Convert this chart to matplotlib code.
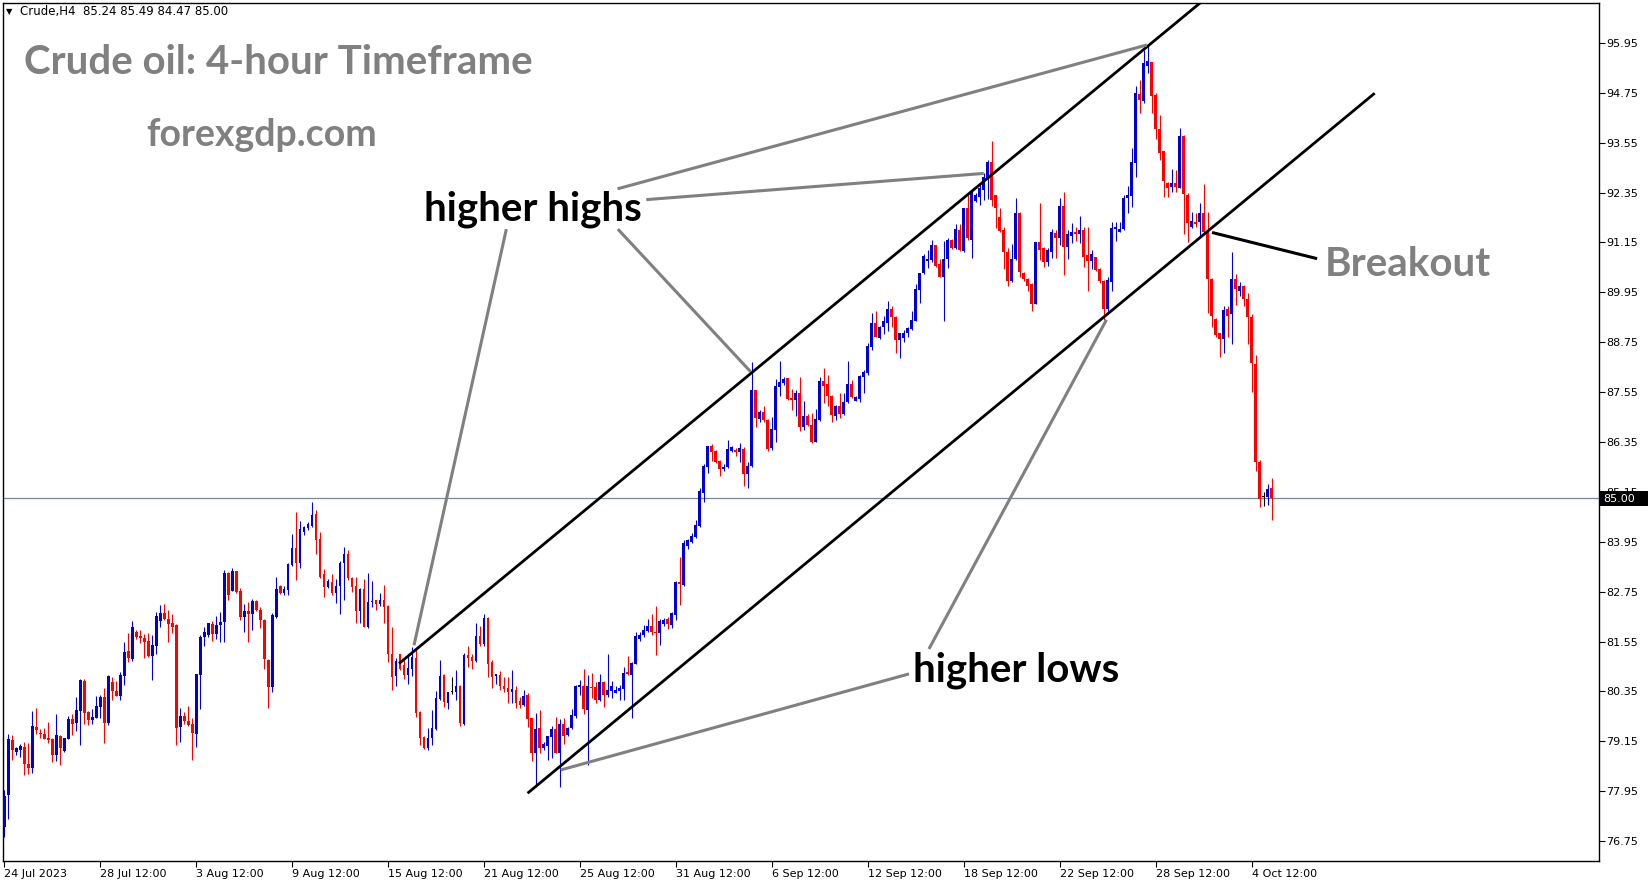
import numpy as np
import matplotlib
matplotlib.use('Agg')
import matplotlib.pyplot as plt
from matplotlib.patches import Rectangle

# H4 candles, Crude, 24 Jul 2023 .. 5 Oct 2023 (bar index 0..317)
opens = [
    77.09, 77.86, 79.18, 78.90, 78.95, 79.01, 78.60, 78.51, 79.49, 79.35,
    79.32, 79.23, 79.21, 78.82, 79.28, 78.92, 79.21, 79.69, 79.60, 79.88,
    80.60, 79.85, 79.66, 79.72, 79.98, 80.21, 79.58, 80.58, 80.37, 80.25,
    80.73, 81.32, 81.14, 81.78, 81.69, 81.63, 81.56, 81.21, 81.45, 82.05,
    82.23, 82.09, 81.99, 81.95, 79.50, 79.75, 79.63, 79.56, 79.33, 80.75,
    81.67, 81.71, 81.97, 81.74, 81.95, 82.03, 83.20, 82.77, 83.24, 82.76,
    82.15, 82.28, 82.20, 82.52, 82.32, 82.07, 81.10, 80.46, 82.15, 82.88,
    82.71, 82.79, 83.39, 83.80, 83.43, 84.18, 84.29, 84.33, 84.62, 84.01,
    83.17, 82.87, 82.98, 82.71, 82.88, 83.43, 83.65, 83.07, 82.88, 82.29,
    82.81, 81.91, 82.49, 82.55, 82.45, 82.55, 82.41, 81.26, 80.72, 81.25,
    80.98, 80.74, 80.89, 81.16, 79.85, 79.26, 79.00, 79.23, 79.44, 80.16,
    80.74, 80.08, 80.33, 80.33, 80.49, 79.56, 81.22, 81.18, 81.09, 81.68,
    81.49, 82.12, 81.06, 80.73, 80.74, 80.49, 80.42, 80.34, 80.38, 80.12,
    80.02, 80.26, 79.70, 78.87, 79.46, 79.00, 79.04, 79.26, 79.44, 78.87,
    79.56, 79.30, 79.46, 79.77, 80.46, 80.49, 79.90, 80.46, 80.45, 80.14,
    80.58, 80.26, 80.37, 80.32, 80.37, 80.40, 80.82, 80.74, 81.02, 81.60,
    81.71, 81.80, 81.92, 81.77, 81.75, 81.97, 82.10, 81.95, 82.19, 82.97,
    82.92, 83.85, 83.95, 84.07, 84.34, 85.13, 85.76, 86.25, 86.13, 85.89,
    85.70, 85.74, 86.13, 86.16, 86.10, 86.18, 85.58, 85.77, 87.59, 86.90,
    87.06, 86.89, 86.20, 86.64, 87.68, 87.78, 87.90, 87.41, 87.36, 87.54,
    86.70, 86.97, 86.76, 86.36, 86.88, 87.82, 87.74, 87.46, 86.98, 87.21,
    87.02, 87.30, 87.74, 87.34, 87.38, 87.92, 88.02, 88.64, 89.21, 88.86,
    89.12, 89.22, 89.54, 89.35, 88.80, 88.84, 88.96, 89.06, 89.26, 90.01,
    90.41, 90.71, 90.73, 91.09, 90.63, 90.31, 90.74, 91.21, 91.01, 91.45,
    90.95, 91.97, 91.21, 92.15, 92.25, 92.41, 92.68, 93.08, 92.29, 91.76,
    91.45, 90.91, 90.22, 90.75, 91.87, 90.41, 90.26, 90.15, 89.67, 91.15,
    91.01, 90.67, 90.93, 91.37, 91.25, 92.03, 91.03, 91.31, 91.41, 91.35,
    91.45, 90.85, 90.71, 90.79, 90.50, 90.23, 89.55, 90.21, 91.47, 91.39,
    91.47, 92.21, 92.27, 93.07, 94.72, 94.56, 95.40, 95.50, 94.70, 93.88,
    93.34, 92.57, 92.48, 92.57, 92.47, 93.71, 92.29, 91.51, 91.63, 91.63,
    91.87, 91.41, 90.27, 89.31, 88.96, 88.82, 89.54, 89.42, 90.27, 89.98,
    90.10, 89.79, 89.35, 88.23, 85.86, 85.03, 85.02, 85.24]
highs = [
    77.98, 79.32, 79.30, 79.02, 79.08, 79.13, 79.10, 79.89, 79.95, 79.45,
    79.48, 79.61, 79.24, 79.81, 79.30, 79.24, 79.76, 79.81, 80.22, 80.65,
    80.64, 79.88, 79.93, 80.24, 80.26, 80.42, 80.74, 80.69, 80.61, 80.81,
    81.54, 81.76, 82.04, 81.83, 81.82, 81.74, 81.75, 81.71, 82.27, 82.44,
    82.45, 82.31, 82.21, 81.97, 79.95, 79.85, 80.00, 79.71, 80.78, 81.71,
    81.89, 81.99, 82.05, 82.17, 82.27, 83.27, 83.22, 83.31, 83.25, 82.83,
    82.45, 82.49, 82.58, 82.54, 82.37, 82.08, 81.12, 82.23, 83.10, 82.90,
    82.88, 83.43, 84.13, 84.66, 84.46, 84.33, 84.42, 84.91, 84.71, 84.19,
    83.29, 83.05, 83.17, 83.06, 83.49, 83.83, 83.75, 83.11, 83.11, 82.83,
    83.05, 83.20, 83.00, 82.56, 82.72, 82.91, 82.42, 81.89, 81.16, 81.26,
    81.10, 81.22, 81.42, 81.37, 79.88, 79.27, 79.48, 79.90, 80.37, 81.10,
    80.77, 80.34, 80.70, 80.86, 80.50, 81.28, 81.44, 81.25, 82.00, 81.92,
    82.21, 82.13, 81.10, 80.78, 80.85, 80.70, 80.70, 80.86, 80.49, 80.22,
    80.38, 80.30, 79.72, 79.84, 79.90, 79.14, 79.28, 79.52, 79.74, 79.68,
    79.72, 79.50, 79.92, 80.50, 80.62, 80.89, 80.74, 80.80, 80.58, 80.77,
    80.59, 81.25, 80.61, 80.49, 80.50, 80.94, 81.20, 81.06, 81.77, 81.79,
    81.94, 82.08, 82.21, 82.40, 82.09, 82.11, 82.15, 82.27, 83.01, 83.59,
    83.99, 84.02, 84.15, 84.47, 85.25, 85.82, 86.25, 86.29, 86.16, 85.92,
    85.81, 86.40, 86.25, 86.21, 86.32, 86.22, 85.88, 88.28, 87.60, 87.12,
    87.22, 86.90, 86.96, 87.86, 88.30, 87.92, 87.90, 87.62, 87.61, 87.91,
    87.34, 87.02, 87.04, 87.14, 87.92, 88.14, 87.96, 87.48, 87.25, 87.52,
    87.52, 88.30, 87.83, 87.46, 87.96, 88.08, 88.72, 89.45, 89.50, 89.14,
    89.38, 89.74, 89.62, 89.37, 88.98, 89.04, 89.12, 89.50, 90.14, 90.42,
    90.86, 90.97, 91.21, 91.09, 90.74, 91.19, 91.25, 91.23, 91.59, 91.59,
    91.99, 92.29, 92.41, 92.33, 92.57, 92.81, 93.13, 93.60, 92.29, 91.97,
    91.51, 91.02, 91.11, 92.21, 91.89, 90.43, 90.29, 90.17, 91.17, 92.11,
    91.05, 91.01, 91.47, 91.45, 92.21, 92.37, 91.45, 91.61, 91.53, 91.79,
    91.53, 91.53, 90.97, 90.81, 90.53, 90.25, 90.33, 91.65, 91.65, 91.65,
    92.29, 92.51, 93.41, 94.92, 95.06, 95.78, 95.90, 95.50, 94.74, 94.22,
    93.34, 92.61, 92.91, 92.89, 93.90, 93.74, 92.33, 91.89, 91.87, 92.09,
    92.55, 91.89, 90.29, 89.33, 88.96, 89.63, 89.63, 90.93, 90.39, 90.21,
    90.13, 89.93, 89.43, 88.44, 85.92, 85.14, 85.35, 85.49]
lows = [
    76.85, 77.29, 78.71, 78.82, 78.78, 78.33, 78.36, 78.38, 79.32, 79.24,
    79.20, 79.10, 78.65, 78.68, 78.59, 78.90, 79.20, 79.30, 79.40, 79.06,
    79.56, 79.54, 79.56, 79.71, 79.72, 79.12, 79.54, 80.14, 80.23, 80.14,
    80.50, 81.06, 81.09, 81.60, 81.51, 81.16, 81.18, 80.62, 81.25, 81.91,
    82.06, 81.54, 81.75, 79.06, 79.14, 79.56, 79.52, 78.70, 79.02, 79.93,
    81.45, 81.67, 81.57, 81.60, 81.54, 81.54, 82.55, 82.76, 82.72, 82.07,
    81.78, 81.54, 81.83, 82.29, 81.87, 80.90, 79.94, 80.34, 82.12, 82.69,
    82.68, 82.67, 83.37, 83.03, 83.31, 84.11, 84.23, 84.31, 83.65, 83.07,
    82.63, 82.84, 82.68, 82.47, 82.21, 82.55, 83.04, 82.75, 81.99, 81.99,
    81.89, 81.87, 82.39, 82.31, 82.41, 81.99, 81.06, 80.38, 80.49, 80.86,
    80.66, 80.52, 80.73, 79.74, 79.07, 78.96, 78.94, 79.07, 79.42, 80.14,
    79.98, 79.93, 80.29, 80.14, 79.52, 79.54, 80.93, 80.90, 81.06, 81.44,
    81.44, 80.69, 80.44, 80.53, 80.38, 80.34, 80.08, 80.08, 79.94, 79.94,
    80.00, 79.50, 78.68, 78.06, 78.87, 78.94, 78.71, 78.74, 78.86, 78.04,
    79.08, 79.28, 79.44, 79.72, 80.26, 79.80, 78.59, 80.18, 80.08, 80.12,
    79.98, 80.22, 80.18, 80.30, 80.14, 80.14, 80.74, 79.70, 81.00, 81.56,
    81.67, 81.78, 81.71, 81.22, 81.46, 81.92, 81.84, 81.87, 82.07, 82.43,
    82.89, 83.77, 83.91, 84.05, 84.31, 84.91, 85.60, 85.90, 85.85, 85.52,
    85.65, 85.72, 86.12, 86.02, 85.88, 85.28, 85.25, 85.76, 86.72, 86.84,
    86.84, 86.14, 86.16, 86.34, 87.46, 87.72, 87.35, 87.12, 86.97, 86.61,
    86.64, 86.74, 86.33, 86.35, 86.86, 87.28, 87.22, 86.84, 86.88, 86.92,
    87.00, 87.28, 87.40, 87.33, 87.32, 87.54, 87.96, 88.56, 88.88, 88.83,
    88.94, 89.03, 89.12, 88.50, 88.38, 88.76, 88.88, 89.04, 89.25, 89.70,
    90.39, 90.53, 90.69, 90.57, 90.31, 89.27, 90.53, 90.99, 91.00, 90.95,
    90.93, 91.21, 90.77, 92.13, 92.05, 92.17, 92.19, 92.03, 91.49, 91.41,
    90.50, 90.11, 90.19, 90.73, 90.33, 90.23, 89.97, 89.49, 89.66, 90.73,
    90.57, 90.58, 90.77, 90.77, 91.09, 90.37, 90.75, 91.13, 91.19, 91.13,
    90.57, 89.99, 90.50, 90.47, 90.17, 89.29, 89.49, 89.99, 91.19, 91.39,
    91.45, 91.85, 92.00, 92.73, 94.26, 94.51, 95.22, 94.26, 93.64, 93.14,
    92.24, 92.24, 92.36, 92.37, 92.45, 91.35, 91.15, 91.49, 91.53, 91.29,
    91.37, 89.45, 89.12, 88.88, 88.40, 88.50, 88.88, 88.70, 89.65, 89.87,
    89.61, 88.71, 87.56, 85.64, 84.78, 84.81, 84.83, 84.47]
closes = [
    77.83, 79.20, 78.95, 78.99, 79.03, 78.61, 78.51, 79.52, 79.43, 79.33,
    79.21, 79.19, 78.82, 79.29, 79.00, 79.23, 79.69, 79.56, 79.90, 80.62,
    79.84, 79.66, 79.73, 80.00, 80.21, 79.60, 80.72, 80.37, 80.25, 80.74,
    81.30, 81.16, 81.90, 81.67, 81.64, 81.54, 81.19, 81.47, 82.16, 82.23,
    82.09, 81.98, 81.91, 79.48, 79.77, 79.64, 79.54, 79.34, 80.77, 81.67,
    81.79, 81.99, 81.74, 81.94, 82.02, 83.20, 82.68, 83.24, 82.74, 82.15,
    82.28, 82.20, 82.52, 82.31, 82.07, 81.12, 80.46, 82.19, 82.81, 82.72,
    82.81, 83.41, 83.80, 83.45, 84.25, 84.30, 84.38, 84.60, 83.98, 83.11,
    82.87, 83.01, 82.71, 82.88, 83.45, 83.65, 83.07, 82.87, 82.29, 82.81,
    81.91, 82.50, 82.51, 82.45, 82.55, 82.39, 81.25, 80.70, 81.08, 80.90,
    80.74, 80.91, 81.17, 79.84, 79.23, 79.00, 79.24, 79.48, 80.18, 80.73,
    80.10, 80.33, 80.33, 80.48, 79.58, 81.22, 81.16, 81.09, 81.69, 81.50,
    82.12, 81.02, 80.69, 80.77, 80.49, 80.41, 80.34, 80.41, 80.08, 80.02,
    80.24, 79.68, 78.87, 79.44, 79.00, 79.08, 79.28, 79.44, 78.87, 79.56,
    79.28, 79.46, 79.78, 80.48, 80.50, 79.92, 80.49, 80.42, 80.14, 80.58,
    80.26, 80.38, 80.49, 80.38, 80.44, 80.80, 80.77, 81.04, 81.68, 81.71,
    81.83, 81.92, 81.77, 81.75, 82.04, 82.07, 81.96, 82.24, 82.99, 82.93,
    83.93, 83.98, 84.09, 84.35, 85.17, 85.78, 86.25, 86.12, 85.88, 85.70,
    85.76, 86.18, 86.22, 86.10, 86.20, 85.58, 85.77, 87.60, 86.93, 87.06,
    86.88, 86.18, 86.66, 87.70, 87.79, 87.86, 87.38, 87.37, 87.54, 86.70,
    86.97, 86.76, 86.36, 86.90, 87.82, 87.70, 87.46, 87.00, 87.21, 87.02,
    87.30, 87.74, 87.42, 87.42, 87.94, 88.04, 88.66, 89.22, 88.88, 89.12,
    89.25, 89.54, 89.35, 88.80, 88.96, 88.98, 89.08, 89.28, 90.03, 90.42,
    90.82, 90.74, 91.09, 90.59, 90.33, 90.74, 91.21, 91.01, 91.47, 90.97,
    91.97, 91.25, 92.37, 92.29, 92.47, 92.72, 93.09, 92.17, 91.97, 91.43,
    90.91, 90.23, 90.75, 91.87, 90.45, 90.26, 90.10, 89.67, 91.15, 90.97,
    90.67, 90.97, 91.39, 91.25, 92.03, 91.03, 91.35, 91.41, 91.35, 91.45,
    90.81, 90.71, 90.87, 90.49, 90.23, 89.55, 90.25, 91.49, 91.51, 91.47,
    92.23, 92.29, 93.09, 94.74, 94.58, 95.46, 95.52, 94.68, 93.88, 93.30,
    92.64, 92.45, 92.57, 92.49, 93.71, 92.31, 91.61, 91.67, 91.59, 91.87,
    91.39, 90.26, 89.39, 88.92, 88.82, 89.53, 89.39, 90.27, 90.02, 90.10,
    89.79, 89.35, 88.24, 85.86, 84.99, 85.03, 85.23, 85.00]

date_labels = ['24 Jul 2023', '28 Jul 12:00', '3 Aug 12:00', '9 Aug 12:00',
               '15 Aug 12:00', '21 Aug 12:00', '25 Aug 12:00', '31 Aug 12:00',
               '6 Sep 12:00', '12 Sep 12:00', '18 Sep 12:00', '22 Sep 12:00',
               '28 Sep 12:00', '4 Oct 12:00']
bars_per_label = 24
price_ticks = [76.75, 77.95, 79.15, 80.35, 81.55, 82.75, 83.95, 85.15, 86.35,
               87.55, 88.75, 89.95, 91.15, 92.35, 93.55, 94.75, 95.95]
last_price = 85.00

# drawn objects (bar index, price)
channel_top = [(98.75, 81.02), (300.0, 96.98)]
channel_bottom = [(130.9, 77.90), (342.8, 94.74)]
highs_text_pos = (132.2, 91.96)
lows_text_pos = (253.2, 80.86)
breakout_text_pos = (351.2, 90.63)
highs_pointers = [[(153.4, 92.44), (285.8, 95.90)],
                  [(160.6, 92.18), (245.0, 92.81)],
                  [(125.6, 91.47), (102.5, 81.46)],
                  [(153.5, 91.47), (186.7, 88.04)]]
lows_pointers = [[(226.3, 80.77), (139.2, 78.46)],
                 [(231.3, 81.37), (275.7, 89.29)]]
breakout_pointer = [(302.1, 91.39), (328.4, 90.76)]

W, H = 1649, 884
fig = plt.figure(figsize=(W / 100, H / 100), dpi=100)
ax = fig.add_axes([3 / W, 23 / H, 1596 / W, 858 / H])

o = np.array(opens); h = np.array(highs); l = np.array(lows); c = np.array(closes)
x = np.arange(len(o))
cols = np.where(c > o, '#0000d0', np.where(c < o, '#ff0000', '#000000'))
ax.vlines(x, l, h, colors=cols, linewidth=0.8, zorder=2)
body = np.maximum(np.abs(c - o), 0.03)
ax.bar(x, body, bottom=np.minimum(o, c), width=0.72, color=cols, linewidth=0, zorder=3)

ax.axhline(last_price, color='#778899', linewidth=0.9, zorder=1)

for line in (channel_top, channel_bottom):
    ax.plot([p[0] for p in line], [p[1] for p in line], color='black', lw=2.0,
            zorder=4, solid_capstyle='butt')
for seg in highs_pointers + lows_pointers:
    ax.plot([p[0] for p in seg], [p[1] for p in seg], color='#808080', lw=2.2,
            zorder=4, solid_capstyle='butt')
ax.plot([p[0] for p in breakout_pointer], [p[1] for p in breakout_pointer],
        color='black', lw=2.2, zorder=4, solid_capstyle='butt')

big = dict(family=['Lato', 'DejaVu Sans'], weight='bold')
ax.text(*highs_text_pos, 'higher highs', fontsize=29, color='black', ha='center', va='center', zorder=5, **big)
ax.text(*lows_text_pos, 'higher lows', fontsize=29, color='black', ha='center', va='center', zorder=5, **big)
ax.text(*breakout_text_pos, 'Breakout', fontsize=29, color='#808080', ha='center', va='center', zorder=5, **big)

fig.text(24 / W, 1 - 62 / H, 'Crude oil: 4-hour Timeframe', fontsize=29, color='#808080', va='center', **big)
fig.text(146 / W, 1 - 135 / H, 'forexgdp.com', fontsize=27, color='#808080', va='center', **big)
fig.text(20 / W, 1 - 12 / H, 'Crude,H4  85.24 85.49 84.47 85.00', fontsize=8.5, color='black', va='center')
fig.text(6 / W, 1 - 12 / H, '\u25bc', fontsize=6, color='black', va='center')

ax.set_xlim(-0.3, 398.9)
ax.set_ylim(76.27, 96.91)

ax.set_xticks([i * bars_per_label for i in range(len(date_labels))])
ax.set_xticklabels(date_labels)
for lbl in ax.get_xticklabels():
    lbl.set_horizontalalignment('left')
ax.tick_params(axis='x', direction='out', length=4, width=0.8, labelsize=8, pad=2)

ax.yaxis.tick_right()
ax.set_yticks(price_ticks)
ax.set_yticklabels(['%.2f' % v for v in price_ticks])
ax.tick_params(axis='y', direction='out', length=4, width=0.8, labelsize=8, pad=1)

for s in ax.spines.values():
    s.set_color('black')
    s.set_linewidth(1)

# current price label on the price scale
fig.patches.append(Rectangle((1600 / W, 1 - 506 / H), 49 / W, 15 / H, transform=fig.transFigure,
                             facecolor='black', edgecolor='none', zorder=10))
fig.text(1603 / W, 1 - 498.5 / H, '85.00', fontsize=8, color='white', va='center', zorder=11)

fig.savefig('out.png', dpi=100, facecolor='white')
